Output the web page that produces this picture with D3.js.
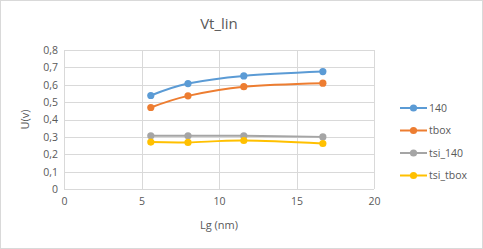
<!DOCTYPE html>
<html>
<head>
<meta charset="utf-8">
<script src="https://cdn.jsdelivr.net/npm/d3@7"></script>
<style>
  body { margin: 0; background: #fff; }
  text { font-family: "Open Sans", Lato, sans-serif; fill: #595959; }
</style>
</head>
<body>
<svg id="chart" width="483" height="249"></svg>
<script>
// values
let lg = [5.6, 8, 11.6, 16.7];
let s140 = [0.538, 0.607, 0.651, 0.676];
let sTbox = [0.469, 0.536, 0.589, 0.609];
let sTsi140 = [0.306, 0.306, 0.306, 0.300];
let sTsiTbox = [0.270, 0.268, 0.279, 0.262];
let seriesNames = ["140", "tbox", "tsi_140", "tsi_tbox"];
let xTicks = [0, 5, 10, 15, 20];
let yTicks = [0, 0.1, 0.2, 0.3, 0.4, 0.5, 0.6, 0.7, 0.8];

function drawChart(holder){
  let width = 483, height = 249;
  let margin = {"left": 64, "top": 50, "right": 109, "bottom": 60};
  let svg = d3.select(holder);

  svg.append("rect")
    .attr("x", 0.5).attr("y", 0.5)
    .attr("width", width - 1).attr("height", height - 1)
    .attr("fill", "#fff").attr("stroke", "#d9d9d9");

  let x = d3.scaleLinear().domain([0, 20]).range([margin.left, width - margin.right]);
  let y = d3.scaleLinear().domain([0, 0.8]).range([height - margin.bottom, margin.top]);

  let color = d3.scaleOrdinal()
    .domain(seriesNames)
    .range(["#5b9bd5", "#ed7d31", "#a5a5a5", "#ffc000"]);

  let grid = svg.append("g").attr("class", "grid");
  grid.selectAll("line.h")
    .data(yTicks)
    .join("line")
    .attr("class", "h")
    .attr("x1", x(0)).attr("x2", x(20))
    .attr("y1", d => Math.round(y(d)) + 0.5).attr("y2", d => Math.round(y(d)) + 0.5)
    .attr("stroke", "#d9d9d9");
  grid.selectAll("line.v")
    .data(xTicks)
    .join("line")
    .attr("class", "v")
    .attr("y1", y(0)).attr("y2", y(0.8))
    .attr("x1", d => Math.round(x(d)) + 0.5).attr("x2", d => Math.round(x(d)) + 0.5)
    .attr("stroke", "#d9d9d9");

  let fmt = d => d3.format(".1f")(d).replace(".", ",").replace(/^0,0$/, "0");

  let yAxis = svg.append("g")
    .attr("transform", `translate(${x(0) - 6},0)`)
    .call(d3.axisLeft(y).tickValues(yTicks).tickSize(0).tickPadding(0).tickFormat(fmt));
  yAxis.select(".domain").remove();
  yAxis.selectAll("text").style("font-size", "10.5px").attr("fill", "#595959");

  let xAxis = svg.append("g")
    .attr("transform", `translate(0,${y(0) + 9})`)
    .call(d3.axisBottom(x).tickValues(xTicks).tickSize(0).tickPadding(0));
  xAxis.select(".domain").remove();
  xAxis.selectAll("text").style("font-size", "10.5px").attr("fill", "#595959");

  let data = [s140, sTbox, sTsi140, sTsiTbox].map((vals, i) => ({
    name: seriesNames[i],
    points: vals.map((v, j) => [lg[j], v])
  }));

  let line = d3.line()
    .x(d => x(d[0]))
    .y(d => y(d[1]))
    .curve(d3.curveCatmullRom.alpha(0));

  let mainG = svg.append("g").attr("class", "main");
  let groups = mainG.selectAll("g")
    .data(data)
    .join("g");

  groups.append("path")
    .attr("d", d => line(d.points))
    .attr("fill", "none")
    .attr("stroke", d => color(d.name))
    .attr("stroke-width", 2);

  groups.each(function(d){
    d3.select(this).selectAll("circle")
      .data(d.points)
      .join("circle")
      .attr("cx", p => x(p[0]))
      .attr("cy", p => y(p[1]))
      .attr("r", 3.6)
      .attr("fill", color(d.name));
  });

  // legend
  let legend = svg.append("g").attr("class", "legend");
  let items = legend.selectAll("g")
    .data(seriesNames)
    .join("g")
    .attr("transform", (d, i) => `translate(400,${108 + i * 22.5})`);
  items.append("line")
    .attr("x1", 0).attr("x2", 27)
    .attr("stroke", d => color(d)).attr("stroke-width", 2);
  items.append("circle")
    .attr("cx", 13.5).attr("r", 3.6)
    .attr("fill", d => color(d));
  items.append("text")
    .attr("x", 29).attr("dy", "0.35em")
    .style("font-size", "10.5px")
    .text(d => d);

  svg.append("text")
    .attr("x", (x(0) + x(20)) / 2).attr("y", 29)
    .attr("text-anchor", "middle")
    .style("font-size", "15px")
    .text("Vt_lin");

  svg.append("text")
    .attr("x", (x(0) + x(20)) / 2).attr("y", 229)
    .attr("text-anchor", "middle")
    .style("font-size", "11px")
    .text("Lg (nm)");

  svg.append("text")
    .attr("transform", `translate(29,${(y(0) + y(0.8)) / 2}) rotate(-90)`)
    .attr("text-anchor", "middle")
    .style("font-size", "11px")
    .text("U(v)");
}

drawChart("#chart");
</script>
</body>
</html>
